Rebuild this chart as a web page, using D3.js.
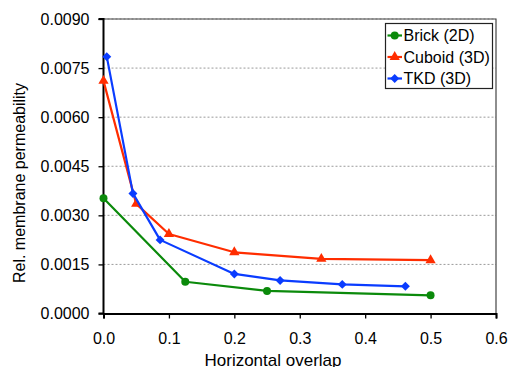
<!DOCTYPE html>
<html>
<head>
<meta charset="utf-8">
<script src="https://cdn.jsdelivr.net/npm/d3@7"></script>
<style>
  html, body { margin: 0; padding: 0; background: #fff; }
  svg { display: block; font-family: Arial, "Liberation Sans", sans-serif; }
</style>
</head>
<body>
<svg id="chart" width="508" height="367"></svg>
<script>
// Relative membrane permeability vs. horizontal overlap
const brickX  = [0.0, 0.125, 0.25, 0.5];
const brickY  = [0.00352, 0.00097, 0.00069, 0.000556];
const cuboidX = [0.0, 0.05, 0.1, 0.2, 0.333, 0.5];
const cuboidY = [0.00711, 0.00335, 0.00243, 0.00187, 0.00167, 0.00163];
const tkdX    = [0.005, 0.045, 0.0865, 0.2, 0.27, 0.365, 0.4615];
const tkdY    = [0.00785, 0.00367, 0.00225, 0.00121, 0.00101, 0.00089, 0.00083];

const seriesNames  = ["Brick (2D)", "Cuboid (3D)", "TKD (3D)"];
const seriesColors = ["#0b8a0b", "#ff2d00", "#0a3cff"];
const seriesShapes = [d3.symbolCircle, d3.symbolTriangle, d3.symbolSquare];
const seriesSizes  = [50, 46, 40];
const seriesRotate = [0, 0, 45];

const xTicks = [0, 0.1, 0.2, 0.3, 0.4, 0.5, 0.6];
const yTicks = [0, 0.0015, 0.003, 0.0045, 0.006, 0.0075, 0.009];

const xAxisTitle = "Horizontal overlap";
const yAxisTitle = "Rel. membrane permeability";

const svg = d3.select("#chart");
const plot = { left: 103.5, right: 496, top: 19, bottom: 313.5 };

const x = d3.scaleLinear().domain([0, 0.6]).range([plot.left, plot.right]);
const y = d3.scaleLinear().domain([0, 0.009]).range([plot.bottom, plot.top]);

// dotted horizontal gridlines
svg.append("g")
  .selectAll("line")
  .data(yTicks.filter(t => t > 0))
  .join("line")
  .attr("x1", plot.left).attr("x2", plot.right)
  .attr("y1", d => y(d)).attr("y2", d => y(d))
  .attr("stroke", "#9a9a9a")
  .attr("stroke-width", 1)
  .attr("stroke-dasharray", "2,2");

// top and right frame
svg.append("path")
  .attr("d", `M${plot.left},${plot.top}H${plot.right}V${plot.bottom}`)
  .attr("fill", "none")
  .attr("stroke", "#444")
  .attr("stroke-width", 1.2);

// axes
const xAxis = svg.append("g")
  .attr("transform", `translate(0,${plot.bottom})`)
  .call(d3.axisBottom(x).tickValues(xTicks).tickFormat(d3.format(".1f")).tickSize(5).tickPadding(14));
const yAxis = svg.append("g")
  .attr("transform", `translate(${plot.left},0)`)
  .call(d3.axisLeft(y).tickValues(yTicks).tickFormat(d3.format(".4f")).tickSize(5).tickPadding(9));

[xAxis, yAxis].forEach(g => {
  g.select(".domain").attr("stroke", "#000").attr("stroke-width", 2);
  g.selectAll(".tick line").attr("stroke", "#000").attr("stroke-width", 1.3);
  g.selectAll(".tick text").attr("fill", "#000").style("font-size", "16px").style("font-family", "Arial, 'Liberation Sans', sans-serif");
});
yAxis.select(".domain").attr("d", `M-5,${plot.bottom}H0V${plot.top}H-5`);
yAxis.selectAll(".tick text").attr("dy", "0.34em");

// axis titles
svg.append("text")
  .attr("x", 273).attr("y", 366)
  .attr("text-anchor", "middle")
  .style("font-size", "17px")
  .text(xAxisTitle);
svg.append("text")
  .attr("transform", "translate(25,183) rotate(-90)")
  .attr("text-anchor", "middle")
  .style("font-size", "16px")
  .text(yAxisTitle);

// series lines and markers
const allSeries = [
  { xs: brickX, ys: brickY },
  { xs: cuboidX, ys: cuboidY },
  { xs: tkdX, ys: tkdY }
];
const line = d3.line().x(d => x(d[0])).y(d => y(d[1]));

allSeries.forEach((s, i) => {
  const pts = s.xs.map((v, k) => [v, s.ys[k]]);
  const g = svg.append("g");
  g.append("path")
    .attr("d", line(pts))
    .attr("fill", "none")
    .attr("stroke", seriesColors[i])
    .attr("stroke-width", 2.2)
    .attr("stroke-linejoin", "round");
  g.selectAll("path.marker")
    .data(pts)
    .join("path")
    .attr("class", "marker")
    .attr("transform", d => `translate(${x(d[0])},${y(d[1])}) rotate(${seriesRotate[i]})`)
    .attr("d", d3.symbol().type(seriesShapes[i]).size(seriesSizes[i]))
    .attr("fill", seriesColors[i]);
});

// legend
const legend = svg.append("g");
legend.append("rect")
  .attr("x", 385.5).attr("y", 23.5)
  .attr("width", 107).attr("height", 65)
  .attr("fill", "#fff")
  .attr("stroke", "#222")
  .attr("stroke-width", 1.2);
seriesNames.forEach((name, i) => {
  const cy = 35.5 + i * 21.5;
  legend.append("line")
    .attr("x1", 387.5).attr("x2", 402)
    .attr("y1", cy).attr("y2", cy)
    .attr("stroke", seriesColors[i]).attr("stroke-width", 2.2);
  legend.append("path")
    .attr("transform", `translate(394.7,${cy}) rotate(${seriesRotate[i]})`)
    .attr("d", d3.symbol().type(seriesShapes[i]).size(seriesSizes[i]))
    .attr("fill", seriesColors[i]);
  legend.append("text")
    .attr("x", 403.5).attr("y", cy)
    .attr("dy", "0.36em")
    .style("font-size", "16px")
    .text(name);
});
</script>
</body>
</html>
